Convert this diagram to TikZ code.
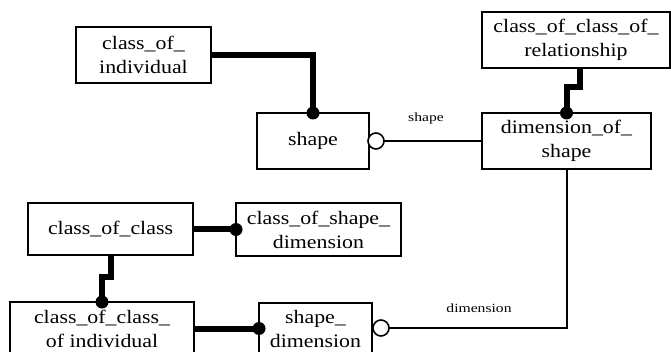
\documentclass[tikz,border=0pt]{standalone}
\usepackage{fontspec}
\setmainfont{Liberation Serif}
\newfontfamily\boxfont[FakeStretch=1.15]{Liberation Serif}
\newfontfamily\labfont[FakeStretch=1.25]{Liberation Serif}
\begin{document}
\begin{tikzpicture}[x=1pt,y=-1pt,
  ent/.style={draw,line width=2pt,inner sep=0pt,outer sep=0pt,align=center,
    font=\boxfont\fontsize{19}{24}\selectfont},
  lab/.style={inner sep=0pt,font=\labfont\fontsize{12.5}{14}\selectfont},
  heavy/.style={line width=6pt},
  light/.style={line width=2pt},
  blob/.style={fill=black,circle,inner sep=0pt,minimum size=13pt},
  ring/.style={draw,fill=white,circle,line width=1.6pt,inner sep=0pt,minimum size=16pt}]
\path[use as bounding box] (0,0) rectangle (671,352);
\fill[white] (0,0) rectangle (671,352);
\begin{scope}
\clip (0,0) rectangle (671,352);
% boxes
\node[ent,minimum width=135pt,minimum height=56pt] (coi) at (143.5,55) {class\_of\_\\individual};
\node[ent,minimum width=112pt,minimum height=56pt] (shape) at (313,141) {shape};
\node[ent,minimum width=188pt,minimum height=56pt] (ccor) at (576,40) {class\_of\_class\_of\_\\relationship};
\node[ent,minimum width=169pt,minimum height=56pt] (dos) at (566.5,141) {dimension\_of\_\\shape};
\node[ent,minimum width=165pt,minimum height=52pt] (coc) at (110.5,229.5) {class\_of\_class};
\node[ent,minimum width=165pt,minimum height=53pt] (cosd) at (318.5,229.5) {class\_of\_shape\_\\dimension};
\node[ent,minimum width=184pt,minimum height=53pt] (ccoi) at (102,328.5) {class\_of\_class\_\\of individual};
\node[ent,minimum width=113pt,minimum height=52pt] (sd) at (315.5,329) {shape\_\\dimension};
% heavy connectors
\draw[heavy] (coi.east) -| (shape.north);
\node[blob] (d1) at (shape.north) {};
\draw[heavy] ([xshift=4pt]ccor.south) -- ++(0,19) -| (dos.north);
\node[blob] (d2) at (dos.north) {};
\draw[heavy] (coc.east) -- (cosd.west);
\node[blob] (d3) at (cosd.west) {};
\draw[heavy] (coc.south) -- ++(0,22) -| (ccoi.north);
\node[blob] (d4) at (ccoi.north) {};
\draw[heavy] (ccoi.east) -- (ccoi.east -| sd.west);
\node[blob] (d5) at (ccoi.east -| sd.west) {};
% light connectors with rings
\coordinate (r1pos) at ([xshift=7pt]shape.east);
\draw[light] (r1pos) -- (r1pos -| dos.west);
\node[ring] (r1) at (r1pos) {};
\coordinate (r2pos) at ([xshift=9pt,yshift=1pt]sd.east);
\draw[light] (dos.south) |- (r2pos);
\node[ring] (r2) at (r2pos) {};
% labels
\node[lab] (l1) at (426,118) {shape};
\node[lab] (l2) at (479,308) {dimension};
\end{scope}
\end{tikzpicture}
\end{document}
